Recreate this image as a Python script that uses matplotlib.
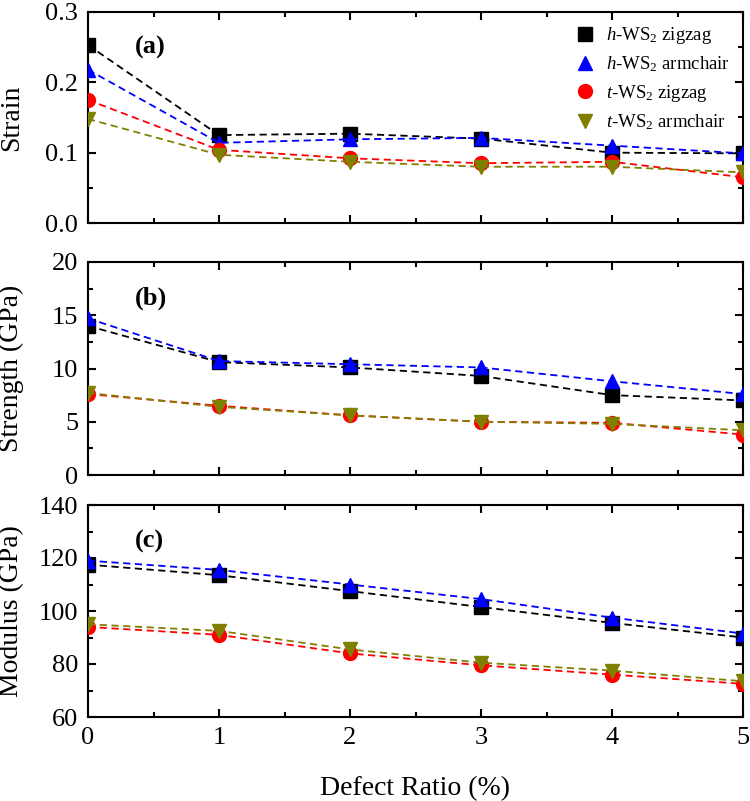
import matplotlib
matplotlib.use('Agg')
import matplotlib.pyplot as plt
from matplotlib.lines import Line2D
from matplotlib.ticker import MultipleLocator

plt.rcParams['font.family'] = ['Liberation Serif', 'DejaVu Serif']
plt.rcParams['mathtext.fontset'] = 'custom'
plt.rcParams['mathtext.rm'] = 'Liberation Serif'
plt.rcParams['mathtext.it'] = 'Liberation Serif:italic'

# Defect ratio (%)
defect = [0, 1, 2, 3, 4, 5]

labels = [r'$h$-WS$_2$ zigzag', r'$h$-WS$_2$ armchair',
          r'$t$-WS$_2$ zigzag', r'$t$-WS$_2$ armchair']
colors = ['black', '#0000ff', '#ff0000', '#808000']
markers = ['s', '^', 'o', 'v']

# (a) Strain
strain_h_zz = [0.253, 0.125, 0.127, 0.120, 0.100, 0.099]
strain_h_ac = [0.218, 0.114, 0.119, 0.121, 0.110, 0.099]
strain_t_zz = [0.175, 0.104, 0.092, 0.085, 0.087, 0.065]
strain_t_ac = [0.148, 0.097, 0.087, 0.080, 0.080, 0.072]

# (b) Strength (GPa)
strength_h_zz = [14.0, 10.6, 10.1, 9.3, 7.5, 7.0]
strength_h_ac = [14.7, 10.7, 10.4, 10.1, 8.8, 7.6]
strength_t_zz = [7.6, 6.5, 5.6, 5.0, 4.9, 3.8]
strength_t_ac = [7.7, 6.4, 5.6, 5.0, 4.8, 4.2]

# (c) Modulus (GPa)
modulus_h_zz = [117.5, 113.5, 107.5, 101.5, 95.5, 90.0]
modulus_h_ac = [119.0, 115.5, 110.0, 104.5, 97.5, 91.5]
modulus_t_zz = [94.0, 91.0, 84.0, 79.5, 76.0, 72.5]
modulus_t_ac = [95.0, 92.5, 85.5, 80.5, 77.5, 73.5]

panels = [
    ([strain_h_zz, strain_h_ac, strain_t_zz, strain_t_ac], 'Strain', (0, 0.3), 0.1, 0.05, '(a)'),
    ([strength_h_zz, strength_h_ac, strength_t_zz, strength_t_ac], 'Strength (GPa)', (0, 20), 5, 2.5, '(b)'),
    ([modulus_h_zz, modulus_h_ac, modulus_t_zz, modulus_t_ac], 'Modulus (GPa)', (60, 140), 20, 10, '(c)'),
]

fig = plt.figure(figsize=(7.5, 8.01), dpi=100)
W, H = 750, 801
left, right = 88 / W, 743 / W
tops = [12, 262, 505]
bots = [223, 475, 717]

for i, (series, ylab, ylim, major, minor, tag) in enumerate(panels):
    ax = fig.add_axes([left, 1 - bots[i] / H, right - left, (bots[i] - tops[i]) / H])
    for ys, c, m in zip(series, colors, markers):
        ax.plot(defect, ys, linestyle='--', color=c, marker=m, markersize=10,
                linewidth=1.3, dashes=(4, 2.5), zorder=3)
    ax.set_xlim(0, 5)
    ax.set_ylim(*ylim)
    ax.xaxis.set_major_locator(MultipleLocator(1))
    ax.xaxis.set_minor_locator(MultipleLocator(0.5))
    ax.yaxis.set_major_locator(MultipleLocator(major))
    ax.yaxis.set_minor_locator(MultipleLocator(minor))
    ax.tick_params(which='both', direction='in', top=True, right=True, labelsize=19, width=1.5)
    ax.tick_params(which='major', length=6, pad=7)
    ax.tick_params(which='minor', length=3.5)
    for s in ax.spines.values():
        s.set_linewidth(1.5)
    ax.set_ylabel(ylab, fontsize=20)
    ax.yaxis.set_label_coords(-0.098, 0.5)
    ax.text(0.36, ylim[0] + 0.83 * (ylim[1] - ylim[0]), tag, fontsize=19,
            fontweight='bold', va='center')
    if i < 2:
        ax.tick_params(labelbottom=False)
    else:
        ax.set_xlabel('Defect Ratio (%)', fontsize=20, labelpad=20)
    if i == 0:
        handles = [Line2D([], [], linestyle='none', marker=m, color=c, markersize=10)
                   for c, m in zip(colors, markers)]
        ax.legend(handles, labels, loc='upper right', frameon=False, fontsize=13.5,
                  handletextpad=0.5, labelspacing=0.45, borderaxespad=0.3,
                  handlelength=1.2)

fig.savefig('out.png', dpi=100)
